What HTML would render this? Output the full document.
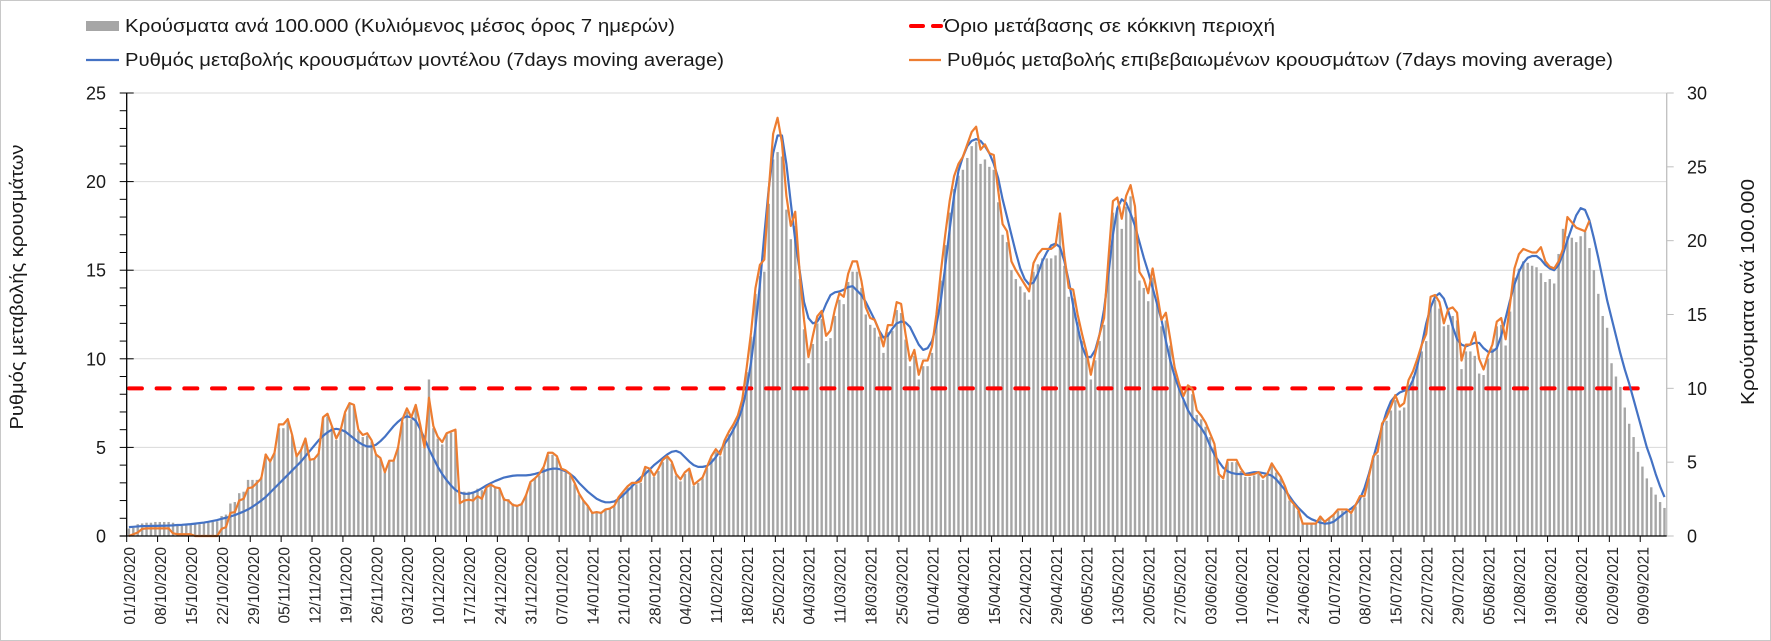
<!DOCTYPE html>
<html><head><meta charset="utf-8"><style>
html,body{margin:0;padding:0;background:#fff;}
svg{display:block;font-family:"Liberation Sans","DejaVu Sans",sans-serif;}
</style></head><body>
<svg id="chart" width="1771" height="641" viewBox="0 0 1771 641" xmlns="http://www.w3.org/2000/svg">
<rect x="0.5" y="0.5" width="1770" height="640" fill="#fff" stroke="#c8c8c8" stroke-width="1"/>
<g id="grid"></g>
<g id="bars"></g>
<g id="lines"></g>
<g id="axes"></g>
<g>
  <rect x="86" y="21" width="33" height="10" fill="#a6a6a6"/>
  <text x="125" y="32" font-size="18" fill="#1a1a1a" textLength="550" lengthAdjust="spacingAndGlyphs">Κρούσματα ανά 100.000 (Κυλιόμενος μέσος όρος 7 ημερών)</text>
  <line x1="911" y1="26" x2="941" y2="26" stroke="#ff0000" stroke-width="4" stroke-dasharray="12,10" stroke-linecap="round"/>
  <text x="944" y="32" font-size="18" fill="#1a1a1a" textLength="331" lengthAdjust="spacingAndGlyphs">Όριο μετάβασης σε κόκκινη περιοχή</text>
  <line x1="86" y1="60" x2="119" y2="60" stroke="#4472c4" stroke-width="2.2"/>
  <text x="125" y="66" font-size="18" fill="#1a1a1a" textLength="599" lengthAdjust="spacingAndGlyphs">Ρυθμός μεταβολής κρουσμάτων μοντέλου (7days moving average)</text>
  <line x1="909" y1="60" x2="941" y2="60" stroke="#ed7d31" stroke-width="2.2"/>
  <text x="947" y="66" font-size="18" fill="#1a1a1a" textLength="666" lengthAdjust="spacingAndGlyphs">Ρυθμός μεταβολής επιβεβαιωμένων κρουσμάτων (7days moving average)</text>
</g>
<text transform="translate(23,287) rotate(-90)" text-anchor="middle" font-size="18" fill="#1a1a1a" textLength="285" lengthAdjust="spacingAndGlyphs">Ρυθμός μεταβολής κρουσμάτων</text>
<text transform="translate(1754,292) rotate(-90)" text-anchor="middle" font-size="18" fill="#1a1a1a" textLength="226" lengthAdjust="spacingAndGlyphs">Κρούσματα ανά 100.000</text>
</svg>
<script>
const tickLabels = ["01/10/2020","08/10/2020","15/10/2020","22/10/2020","29/10/2020","05/11/2020","12/11/2020","19/11/2020","26/11/2020","03/12/2020","10/12/2020","17/12/2020","24/12/2020","31/12/2020","07/01/2021","14/01/2021","21/01/2021","28/01/2021","04/02/2021","11/02/2021","18/02/2021","25/02/2021","04/03/2021","11/03/2021","18/03/2021","25/03/2021","01/04/2021","08/04/2021","15/04/2021","22/04/2021","29/04/2021","06/05/2021","13/05/2021","20/05/2021","27/05/2021","03/06/2021","10/06/2021","17/06/2021","24/06/2021","01/07/2021","08/07/2021","15/07/2021","22/07/2021","29/07/2021","05/08/2021","12/08/2021","19/08/2021","26/08/2021","02/09/2021","09/09/2021"];
const leftTicks = [0,5,10,15,20,25];
const rightTicks = [0,5,10,15,20,25,30];
const thresholdValue = [10];
const casesPer100k = [
0.5,0.55,0.8,0.85,0.9,0.9,0.95,0.95,0.95,0.95,
0.9,0.75,0.7,0.75,0.75,0.8,0.8,0.85,0.9,0.95,
1.0,1.35,1.45,2.2,2.3,2.9,3.0,3.8,3.8,3.8,
4.0,5.55,5.0,5.6,7.3,7.3,7.7,6.8,5.5,5.8,
6.6,5.2,5.2,5.6,8.0,8.1,7.4,6.5,7.1,8.3,
8.9,8.8,7.1,6.7,6.8,6.4,5.5,5.2,4.3,5.1,
5.1,6.0,7.7,8.4,7.9,8.7,7.4,6.0,10.6,7.3,
6.6,6.2,6.9,7.0,7.1,2.8,3.0,3.0,2.9,3.2,
3.1,3.3,3.4,3.3,3.2,2.6,2.5,2.2,2.1,2.2,
2.8,3.6,3.9,4.1,4.6,5.5,5.5,5.3,4.5,4.3,
4.1,3.5,2.8,2.4,2.0,1.6,1.6,1.6,1.8,1.8,
2.0,2.6,2.9,3.3,3.5,3.5,3.6,4.6,4.4,4.0,
4.4,5.0,5.3,4.9,4.1,3.7,4.2,4.4,3.4,3.6,
3.9,4.6,5.3,5.7,5.4,6.3,6.9,7.4,8.0,9.0,
11.1,13.5,16.4,17.6,17.9,22.5,25.5,26.0,25.7,22.1,
20.1,21.0,17.4,14.0,11.7,13.0,14.4,14.7,13.2,13.4,
14.9,16.0,15.7,17.2,17.9,17.9,16.8,15.0,14.3,14.1,
13.5,12.4,13.8,13.9,15.3,15.1,13.3,11.5,12.2,10.6,
11.5,11.5,12.4,14.5,17.3,19.7,21.9,23.5,24.4,24.8,
25.6,26.4,26.7,25.2,25.5,25.0,24.8,22.6,20.4,19.9,
18.0,17.4,16.9,16.5,16.0,17.9,18.4,18.8,18.8,18.8,
19.0,21.1,18.3,16.2,16.1,14.5,13.2,12.1,10.6,11.9,
13.2,14.3,18.2,21.9,22.2,20.8,22.3,23.0,21.6,17.3,
16.8,15.9,17.5,15.9,14.2,14.6,12.9,11.0,10.0,9.2,
9.9,9.6,8.2,7.9,7.4,6.7,6.0,4.1,3.8,5.0,
5.0,5.0,4.4,4.0,4.0,4.1,4.2,3.8,4.1,4.8,
4.3,3.9,3.2,2.4,2.1,1.7,0.9,0.9,0.9,0.9,
1.3,1.0,1.2,1.4,1.7,1.7,1.7,1.5,2.0,2.6,
2.6,3.9,5.2,5.5,7.4,7.8,8.5,9.2,8.5,8.7,
10.2,10.8,11.6,12.5,13.2,15.7,16.0,15.4,14.2,14.3,
14.9,14.6,11.3,12.5,12.5,12.2,11.0,10.9,12.0,12.7,
14.2,14.3,12.9,15.2,17.5,18.1,18.6,18.5,18.3,18.2,
17.8,17.2,17.4,17.1,19.1,20.8,20.3,20.2,19.9,20.3,
20.6,19.5,18.0,16.4,14.9,14.1,11.7,10.8,10.1,8.7,
7.6,6.7,5.7,4.7,3.9,3.3,2.8,2.3,1.9];
const modelRate = [
.5,.52,.54,.56,.56,.57,.57,.58,.58,.59,
.6,.62,.63,.65,.67,.7,.73,.76,.8,.85,
.9,.97,1.03,1.1,1.18,1.28,1.38,1.5,1.65,1.82,
2.0,2.2,2.45,2.7,2.95,3.2,3.45,3.7,3.95,4.2,
4.5,4.8,5.1,5.4,5.65,5.85,6.0,6.05,6.0,5.9,
5.7,5.5,5.3,5.15,5.05,5.05,5.15,5.35,5.6,5.9,
6.2,6.45,6.65,6.75,6.7,6.5,6.05,5.5,4.9,4.4,
3.9,3.5,3.15,2.85,2.6,2.45,2.38,2.38,2.45,2.55,
2.7,2.85,2.98,3.1,3.2,3.3,3.35,3.4,3.42,3.42,
3.42,3.45,3.5,3.57,3.65,3.75,3.8,3.8,3.75,3.65,
3.5,3.3,3.0,2.75,2.5,2.3,2.1,1.98,1.9,1.9,
1.95,2.1,2.3,2.55,2.8,3.05,3.3,3.5,3.75,4.0,
4.2,4.4,4.6,4.75,4.8,4.7,4.45,4.2,4.0,3.9,
3.9,3.95,4.15,4.45,4.8,5.2,5.55,6.0,6.5,7.2,
8.3,9.8,11.8,14.2,17.0,19.6,21.6,22.6,22.6,21.0,
18.8,16.7,15.0,13.2,12.3,12.0,12.1,12.5,13.1,13.6,
13.75,13.8,13.9,14.05,14.1,13.85,13.6,13.2,12.7,12.2,
11.6,11.2,11.3,11.7,12.0,12.1,12.05,11.8,11.3,10.8,
10.5,10.6,11.0,11.9,13.3,15.2,17.3,19.2,20.6,21.4,
22.0,22.3,22.4,22.3,22.0,21.6,21.0,20.2,19.0,18.0,
17.0,16.0,15.1,14.5,14.2,14.3,14.8,15.5,16.0,16.4,
16.5,16.3,15.5,14.4,13.0,11.8,10.7,10.1,10.1,10.5,
11.4,12.8,14.8,17.0,18.5,19.0,18.8,18.2,17.5,16.6,
15.7,14.9,14.0,13.1,12.2,11.0,9.9,9.0,8.3,7.7,
7.1,6.7,6.4,6.1,5.7,5.1,4.6,4.2,3.85,3.65,
3.55,3.5,3.5,3.5,3.55,3.6,3.6,3.55,3.5,3.4,
3.2,2.9,2.6,2.25,1.9,1.6,1.35,1.1,0.95,0.85,
0.75,0.7,0.72,0.8,1.0,1.2,1.4,1.55,1.75,2.1,
2.7,3.5,4.4,5.3,6.2,7.0,7.6,7.9,8.1,8.2,
8.3,8.8,9.6,10.8,12.0,12.9,13.5,13.7,13.4,12.7,
11.8,11.1,10.8,10.7,10.8,10.9,10.9,10.6,10.4,10.4,
10.6,11.3,12.3,13.3,14.2,14.9,15.4,15.7,15.8,15.8,
15.6,15.3,15.1,15.0,15.3,15.9,16.7,17.4,18.1,18.5,
18.4,17.8,16.8,15.7,14.5,13.3,12.3,11.3,10.3,9.4,
8.6,7.7,6.8,5.9,5.0,4.3,3.5,2.8,2.2];
const confirmedRate = [
0,0.1,0.2,0.4,0.43,0.43,0.43,0.43,0.43,0.43,
0.15,0.1,0.1,0.1,0.1,0,0,0,0,0,
0,0.4,0.5,1.3,1.35,2.0,2.1,2.7,2.75,3.0,
3.25,4.6,4.2,4.7,6.3,6.3,6.6,5.7,4.5,4.85,
5.5,4.3,4.35,4.65,6.7,6.9,6.2,5.5,6.0,7.0,
7.5,7.4,6.0,5.7,5.8,5.4,4.6,4.4,3.6,4.25,
4.25,5.0,6.6,7.2,6.7,7.4,6.3,5.0,7.8,6.2,
5.6,5.3,5.8,5.9,6.0,1.85,2.0,2.05,2.0,2.25,
2.1,2.75,2.9,2.75,2.7,2.05,2.0,1.75,1.7,1.8,
2.3,3.05,3.25,3.5,3.9,4.7,4.7,4.5,
3.8,3.7,3.5,3.0,2.4,2.0,1.7,1.3,1.35,1.3,
1.5,1.55,1.7,2.2,2.5,2.8,3.0,3.0,3.1,3.9,
3.8,3.4,3.8,4.3,4.5,4.2,3.5,3.2,3.6,3.8,
2.9,3.1,3.3,3.9,4.5,4.9,4.6,5.4,5.9,6.3,
6.8,7.7,9.5,11.5,14.0,15.3,15.6,19.5,22.7,23.6,
22.2,19.2,17.5,18.3,14.9,12.2,10.1,11.3,12.4,12.7,
11.3,11.6,12.8,13.7,13.5,14.8,15.5,15.5,14.4,12.9,
12.3,12.2,11.6,10.7,11.9,11.9,13.2,13.1,11.4,9.9,
10.5,9.1,9.9,9.9,10.7,12.5,14.9,17.0,18.9,20.3,
21.0,21.4,22.1,22.8,23.1,21.8,22.1,21.6,21.5,19.5,
17.6,17.2,15.5,15.0,14.6,14.2,13.8,15.4,15.9,16.2,
16.2,16.2,16.4,18.2,15.8,14.0,13.9,12.5,11.4,10.4,
9.1,10.3,11.4,12.3,15.7,18.9,19.1,17.9,19.2,19.8,
18.6,14.9,14.5,13.7,15.1,13.7,12.2,12.6,11.1,9.5,
8.6,7.9,8.5,8.3,7.1,6.8,6.4,5.8,5.2,3.5,
3.25,4.3,4.3,4.3,3.8,3.45,3.45,3.5,3.6,3.3,
3.5,4.1,3.7,3.35,2.8,2.1,1.8,1.5,0.7,0.7,
0.7,0.7,1.1,0.8,1.0,1.2,1.5,1.5,1.5,1.3,
1.75,2.25,2.25,3.35,4.5,4.75,6.35,6.7,7.3,7.95,
7.3,7.5,8.8,9.3,10.0,10.8,11.4,13.5,13.6,13.2,
12.0,12.8,12.9,12.6,9.9,10.8,10.8,11.5,10.0,9.4,
10.2,10.8,12.1,12.3,11.1,13.1,15.1,15.9,16.2,16.1,
16.0,16.0,16.3,15.5,15.2,15.1,15.5,16.2,18.0,17.7,
17.4,17.3,17.2,17.8];

const NS='http://www.w3.org/2000/svg';
const plotL=126.7, plotR=1666.7, plotT=93, plotB=536;
const N=casesPer100k.length;
const band=(plotR-plotL)/N;
function xBand(i){return plotL+band*i;}
function xC(i){return plotL+band*(i+0.5);}
function yL(v){return plotB-(v/25)*(plotB-plotT);}
function yR(v){return plotB-(v/30)*(plotB-plotT);}
function mk(tag,attrs,parent){const e=document.createElementNS(NS,tag);for(const k in attrs)e.setAttribute(k,attrs[k]);parent.appendChild(e);return e;}
const grid=document.getElementById('grid'),barsG=document.getElementById('bars'),linesG=document.getElementById('lines'),axes=document.getElementById('axes');

leftTicks.forEach(v=>{
  if(v>0){const g=mk('line',{x1:plotL,x2:plotR,y1:yL(v),y2:yL(v),stroke:'#d9d9d9','stroke-width':1},grid);
  
  }
  const t=mk('text',{x:106,y:yL(v)+6.5,'text-anchor':'end','font-size':18,fill:'#1a1a1a'},axes);
  
  
  t.textContent=v;
  const tk=mk('line',{x1:plotL-7,x2:plotL+7,y1:yL(v),y2:yL(v),stroke:'#000','stroke-width':1},axes);
  
  
});
for(let m=1;m<25;m++){ if(m%5===0) continue;
  const tk=mk('line',{x1:plotL-7,x2:plotL,y1:yL(m),y2:yL(m),stroke:'#000','stroke-width':1},axes);
  
  
}
rightTicks.forEach(v=>{
  const t=mk('text',{x:1687,y:yR(v)+6.5,'font-size':18,fill:'#1a1a1a'},axes);
  
  
  t.textContent=v;
  const tk=mk('line',{x1:plotR,x2:plotR+7,y1:yR(v),y2:yR(v),stroke:'#bfbfbf','stroke-width':1},axes);
  
  
});

casesPer100k.forEach((v,i)=>{
  const b=mk('rect',{x:xC(i)-1.2,y:yR(v),width:2.4,height:plotB-yR(v),fill:'#a6a6a6'},barsG);
  
  
});

const th=mk('line',{x1:xC(0),x2:xC(345),y1:yR(thresholdValue[0]),y2:yR(thresholdValue[0]),stroke:'#ff0000','stroke-width':4,'stroke-dasharray':'13,14.7','stroke-linecap':'round'},linesG);



function poly(arr){return arr.map((v,i)=>xC(i).toFixed(2)+','+yL(v).toFixed(2)).join(' ');}
const bl=mk('polyline',{points:poly(modelRate),fill:'none',stroke:'#4472c4','stroke-width':2.2,'stroke-linejoin':'round'},linesG);


const ol=mk('polyline',{points:poly(confirmedRate),fill:'none',stroke:'#ed7d31','stroke-width':2.2,'stroke-linejoin':'round'},linesG);



const la=mk('line',{x1:plotL,x2:plotL,y1:plotT,y2:plotB,stroke:'#000','stroke-width':1.3},axes);


const ra=mk('line',{x1:plotR,x2:plotR,y1:plotT,y2:plotB,stroke:'#bfbfbf','stroke-width':1.3},axes);


const xa=mk('line',{x1:plotL-7,x2:plotR,y1:plotB,y2:plotB,stroke:'#000','stroke-width':1.3},axes);



tickLabels.forEach((lab,k)=>{
  const x=xBand(7*k);
  const tk=mk('line',{x1:x,x2:x,y1:plotB,y2:plotB+6,stroke:'#000','stroke-width':1},axes);
  
  
  const t=mk('text',{transform:'translate('+(x+8.5)+',547) rotate(-90)','text-anchor':'end','font-size':15.5,fill:'#262626'},axes);
  
  
  t.textContent=lab;
});
</script>
</body></html>
